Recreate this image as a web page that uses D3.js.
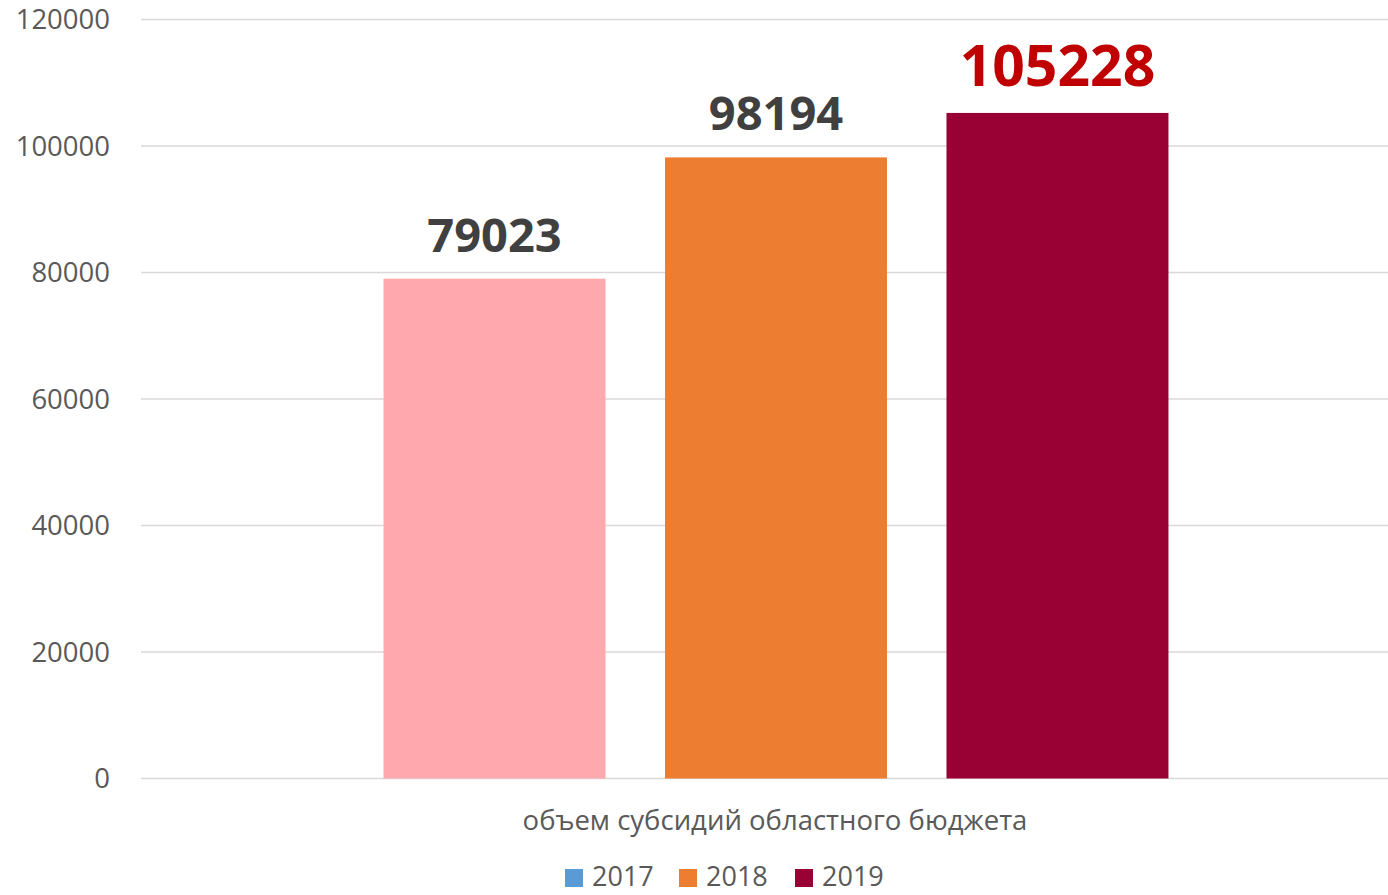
<!DOCTYPE html>
<html>
<head>
<meta charset="utf-8">
<script src="https://cdn.jsdelivr.net/npm/d3@7"></script>
<style>
  html, body { margin: 0; padding: 0; background: #fff; overflow: hidden; }
  svg { display: block; }
</style>
</head>
<body>
<svg id="chart" width="1388" height="895"></svg>
<script>
const categories = ["объем субсидий областного бюджета"];
const seriesNames = ["2017", "2018", "2019"];
const values = [79023, 98194, 105228];
const barColors = ["#FFA9AE", "#ED7D31", "#990033"];
const legendColors = ["#5B9BD5", "#ED7D31", "#990033"];
const labelColors = ["#404040", "#404040", "#C00000"];
const labelSizes = [47, 47, 57];
const yTicks = [0, 20000, 40000, 60000, 80000, 100000, 120000];

const svg = d3.select("#chart");
const font = "'Open Sans', 'Noto Sans', sans-serif";
const plotLeft = 141, plotRight = 1411, plotTop = 19.5, plotBottom = 778.5;

const y = d3.scaleLinear().domain([0, 120000]).range([plotBottom, plotTop]);
const x0 = d3.scaleBand().domain(categories).range([plotLeft, plotRight]).paddingInner(0).paddingOuter(0.309);
const x1 = d3.scaleBand().domain(seriesNames).range([0, x0.bandwidth()]).paddingInner(0.2114).paddingOuter(0);

// gridlines
svg.append("g").selectAll("line").data(yTicks).join("line")
  .attr("x1", plotLeft).attr("x2", plotRight)
  .attr("y1", d => y(d)).attr("y2", d => y(d))
  .attr("stroke", "#D9D9D9").attr("stroke-width", 1.5);

// y tick labels
svg.append("g").selectAll("text").data(yTicks).join("text")
  .attr("x", 110).attr("y", d => y(d) + 9.5)
  .attr("text-anchor", "end")
  .attr("font-family", font).attr("font-size", 27.5)
  .attr("fill", "#595959")
  .text(d => d);

// bars
const g = svg.append("g").attr("transform", `translate(${x0(categories[0])},0)`);
g.selectAll("rect").data(values).join("rect")
  .attr("x", (d, i) => x1(seriesNames[i]))
  .attr("width", x1.bandwidth())
  .attr("y", d => y(d))
  .attr("height", d => y(0) - y(d))
  .attr("fill", (d, i) => barColors[i]);

// value labels
g.selectAll("text").data(values).join("text")
  .attr("x", (d, i) => x1(seriesNames[i]) + x1.bandwidth() / 2)
  .attr("y", d => y(d) - 27)
  .attr("text-anchor", "middle")
  .attr("font-family", font).attr("font-weight", "bold")
  .attr("font-size", (d, i) => labelSizes[i])
  .attr("fill", (d, i) => labelColors[i])
  .text(d => d);

// category label
svg.append("text")
  .attr("x", x0(categories[0]) + x0.bandwidth() / 2 - 1)
  .attr("y", 830)
  .attr("text-anchor", "middle")
  .attr("font-family", font).attr("font-size", 27.5)
  .attr("fill", "#595959")
  .text(categories[0]);

// legend
const legendX = [565, 679, 795];
const lg = svg.append("g");
seriesNames.forEach((s, i) => {
  lg.append("rect").attr("x", legendX[i]).attr("y", 869).attr("width", 18).attr("height", 18)
    .attr("fill", legendColors[i]);
  lg.append("text").attr("x", legendX[i] + 27).attr("y", 886)
    .attr("font-family", font).attr("font-size", 27).attr("fill", "#595959")
    .text(s);
});
</script>
</body>
</html>
